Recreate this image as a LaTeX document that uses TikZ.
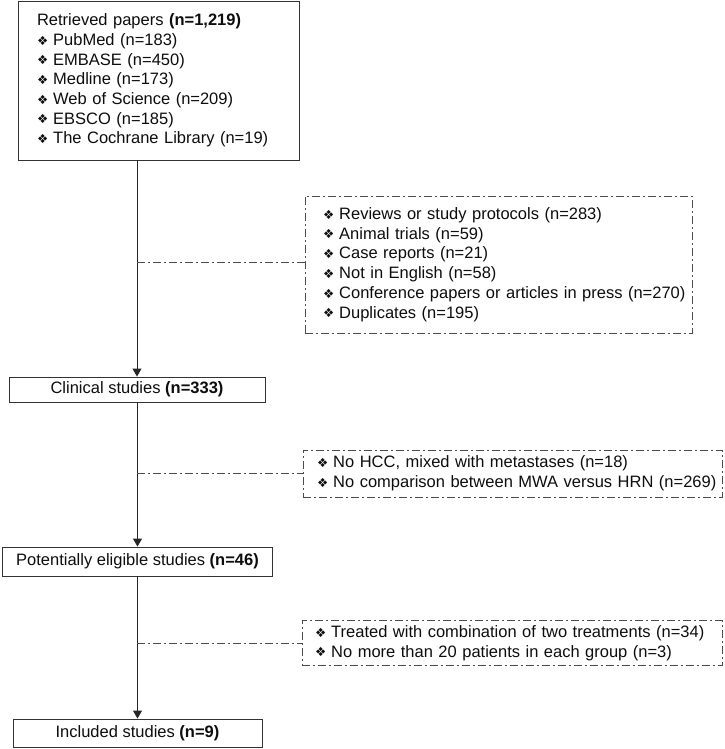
\documentclass[tikz,border=0pt]{standalone}
\usepackage{fontspec}
\setmainfont{Liberation Sans}
\newfontfamily\dvsym{DejaVu Sans}
\usetikzlibrary{arrows.meta}
\newcommand{\itm}[1]{\mbox{\raisebox{0.3pt}{\dvsym\fontsize{12.5}{12.5}\selectfont ❖}\hspace{5pt}#1}}
\begin{document}
\begin{tikzpicture}[x=1pt,y=-1pt,
  txt/.style={font=\fontsize{16.5}{19.7}\selectfont, text=black!95},
  solidbox/.style={txt, draw=black!80, line width=0.9pt, inner sep=0pt},
  listbox/.style={txt, align=left, inner ysep=0pt},
  ddash/.style={draw=black!70, line width=0.9pt, dash pattern=on 8pt off 3pt on 2pt off 3pt},
  arr/.style={draw=black!85, line width=0.9pt, -{Triangle[width=9pt,length=8pt]}},
  link/.style={draw=black!85, line width=0.9pt}]
\useasboundingbox (0,0) rectangle (724,749);

% main boxes
\node[solidbox, listbox, inner xsep=19pt, text width=243pt, minimum height=159pt] (b1) at (158.5,80.5)
  {Retrieved papers \textbf{(n=1,219)}\\
   \itm{PubMed (n=183)}\\
   \itm{EMBASE (n=450)}\\
   \itm{Medline (n=173)}\\
   \itm{Web of Science (n=209)}\\
   \itm{EBSCO (n=185)}\\
   \itm{The Cochrane Library (n=19)}};
\node[solidbox, minimum width=256pt, minimum height=25pt] (b2) at (137,389.5) {Clinical studies \textbf{(n=333)}};
\node[solidbox, minimum width=270pt, minimum height=29pt] (b3) at (137.5,561.5) {Potentially eligible studies \textbf{(n=46)}};
\node[solidbox, minimum width=249pt, minimum height=28pt] (b4) at (137.5,733) {Included studies \textbf{(n=9)}};

% exclusion boxes
\node[listbox, ddash, inner xsep=18pt, text width=351pt, minimum height=137pt] (e1) at (498.5,264.5)
  {\itm{Reviews or study protocols (n=283)}\\
   \itm{Animal trials (n=59)}\\
   \itm{Case reports (n=21)}\\
   \itm{Not in English (n=58)}\\
   \itm{Conference papers or articles in press (n=270)}\\
   \itm{Duplicates (n=195)}};
\node[listbox, ddash, inner xsep=14pt, text width=391pt, minimum height=47pt] (e2) at (512.5,473.5)
  {\itm{No HCC, mixed with metastases (n=18)}\\
   \itm{No comparison between MWA versus HRN (n=269)}};
\node[listbox, ddash, inner xsep=13pt, text width=394pt, minimum height=45pt] (e3) at (512,643)
  {\itm{Treated with combination of two treatments (n=34)}\\
   \itm{No more than 20 patients in each group (n=3)}};

% flow arrows
\draw[arr] (b1.south -| b2.north) -- (b2.north);
\draw[arr] (b2.south -| b3.north) -- (b3.north);
\draw[arr] (b3.south -| b4.north) -- (b4.north);

% side links
\coordinate (j1) at ([yshift=2pt]b2.north |- e1.west);
\coordinate (j2) at (b2.north |- e2.west);
\coordinate (j3) at (b2.north |- e3.west);
\draw[ddash] (j1) -- (j1 -| e1.west);
\draw[ddash] (j2) -- (e2.west);
\draw[ddash] (j3) -- (e3.west);
\end{tikzpicture}
\end{document}
